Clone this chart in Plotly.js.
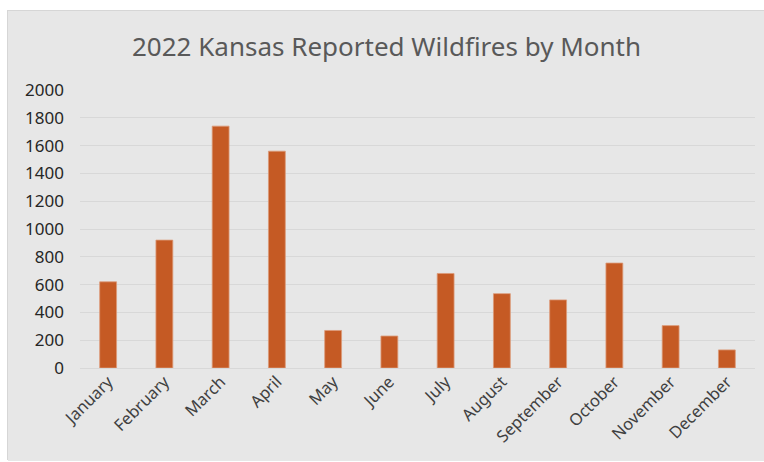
<!DOCTYPE html>
<html>
<head>
<meta charset="utf-8">
<script src="https://cdn.plot.ly/plotly-3.0.1.min.js"></script>
<style>
  html, body { margin: 0; padding: 0; background: #ffffff; }
  #chart { position: absolute; left: 7px; top: 10px; width: 757px; height: 450px; border-top: 1px solid #d6d6d6; border-left: 1px solid #d6d6d6; box-sizing: border-box; }
</style>
</head>
<body>
<div id="chart"></div>
<script>
const months = ["January","February","March","April","May","June","July","August","September","October","November","December"];
const wildfires = [620, 920, 1740, 1560, 270, 230, 680, 535, 490, 755, 305, 130];
const yTicks = [0, 200, 400, 600, 800, 1000, 1200, 1400, 1600, 1800, 2000];
const chartTitle = "2022 Kansas Reported Wildfires by Month";

const trace = {
  type: "bar",
  x: months,
  y: wildfires,
  marker: { color: "#c55a24", line: { color: "#dc9a78", width: 0.8 } },
  hoverinfo: "x+y"
};

const layout = {
  width: 757,
  height: 450,
  paper_bgcolor: "#e7e7e7",
  plot_bgcolor: "#e7e7e7",
  margin: { l: 72, r: 10, t: 79, b: 93 },
  bargap: 0.7,
  showlegend: false,
  font: { family: "Noto Sans, sans-serif", color: "#404040" },
  title: {
    text: chartTitle,
    font: { family: "Noto Sans, sans-serif", size: 26, color: "#595959" },
    x: 0.5, xref: "container", xanchor: "center",
    y: 0.92, yref: "container", yanchor: "middle"
  },
  xaxis: {
    type: "category",
    tickangle: -45,
    tickfont: { size: 16.5, color: "#404040" },
    showline: false,
    showgrid: false,
    ticks: "",
    automargin: false
  },
  yaxis: {
    range: [0, 2000],
    tickvals: yTicks,
    ticktext: yTicks.map(String),
    tickfont: { size: 17, color: "#262626" },
    showgrid: true,
    gridcolor: "#d8d8d8",
    gridwidth: 1,
    zeroline: true,
    zerolinecolor: "#d8d8d8",
    zerolinewidth: 1,
    showline: false,
    ticks: "",
    ticklabelstandoff: 15,
    automargin: false
  }
};

Plotly.newPlot("chart", [trace], layout, { displayModeBar: false, staticPlot: true });
</script>
</body>
</html>
